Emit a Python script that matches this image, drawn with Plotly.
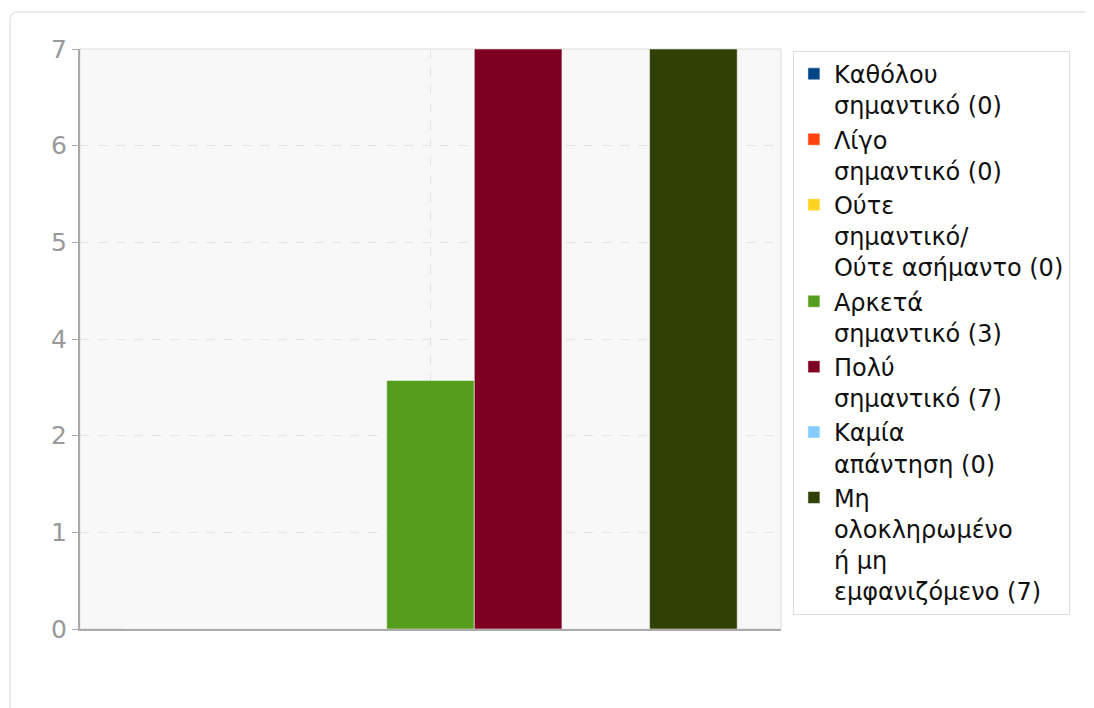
import plotly.graph_objects as go

# ── DATA ────────────────────────────────────────────────────
categories = [
    "Καθόλου<br>σημαντικό (0)",
    "Λίγο<br>σημαντικό (0)",
    "Ούτε<br>σημαντικό/<br>Ούτε ασήμαντο (0)",
    "Αρκετά<br>σημαντικό (3)",
    "Πολύ<br>σημαντικό (7)",
    "Καμία<br>απάντηση (0)",
    "Μη<br>ολοκληρωμένο<br>ή μη<br>εμφανιζόμενο (7)",
]
counts = [0, 0, 0, 3, 7, 0, 7]
colors = ["#004586", "#ff420e", "#ffd320", "#579d1c", "#7e0021", "#83caff", "#314004"]

y_tickvals = [i * 7 / 6 for i in range(7)]
y_ticktext = ["0", "1", "2", "4", "5", "6", "7"]

# ── FIGURE ──────────────────────────────────────────────────
fig = go.Figure()

for name, val, col in zip(categories, counts, colors):
    fig.add_trace(go.Bar(
        x=[0],
        y=[val],
        name=name,
        legendgroup=name,
        marker=dict(color=col, line=dict(color="rgba(255,255,255,0.5)", width=1)),
    ))

# outer card border (rounded)
r_x, r_y = 8 / 701, 8 / 580
x0, y0 = -70 / 701, 1.0638
x1, y1 = 1.5, -0.2
fig.add_shape(
    type="path", xref="paper", yref="paper", layer="below",
    path=(f"M {x0},{y1} L {x0},{y0 - r_y} Q {x0},{y0} {x0 + r_x},{y0} "
          f"L {x1},{y0}"),
    line=dict(color="#e6e6e6", width=1.5),
)
# light plot-area frame
fig.add_shape(
    type="rect", xref="paper", yref="paper", layer="below",
    x0=0, y0=0, x1=1, y1=1,
    line=dict(color="#dddddd", width=1),
)

fig.update_layout(
    width=1094,
    height=708,
    margin=dict(l=72, r=321, t=41, b=87),
    paper_bgcolor="white",
    plot_bgcolor="#f8f8f8",
    font=dict(family="DejaVu Sans", size=24, color="#111111"),
    barmode="group",
    bargap=0.125,
    bargroupgap=0,
    showlegend=True,
    legend=dict(
        x=1.017, y=0.997, xanchor="left", yanchor="top",
        bgcolor="white", bordercolor="#dddddd", borderwidth=1,
        valign="top", tracegroupgap=0, itemwidth=30,
        entrywidth=245, maxheight=1.0,
        font=dict(family="DejaVu Sans", size=24, color="#111111"),
    ),
)

fig.update_xaxes(
    range=[-0.5, 0.5],
    tickvals=[0], showticklabels=False, ticks="",
    showgrid=True, gridcolor="#e3e3e3", griddash="dash", gridwidth=1,
    showline=True, linecolor="#aaaaaa", linewidth=2,
    zeroline=False, fixedrange=True,
)
fig.update_yaxes(
    range=[0, 7],
    tickvals=y_tickvals, ticktext=y_ticktext,
    ticks="outside", ticklen=6, tickcolor="#aaaaaa",
    tickfont=dict(family="DejaVu Sans", size=25, color="#999999"),
    showgrid=True, gridcolor="#e3e3e3", griddash="dash", gridwidth=1,
    showline=True, linecolor="#aaaaaa", linewidth=2,
    zeroline=False,
)

fig.write_html("out.html")
